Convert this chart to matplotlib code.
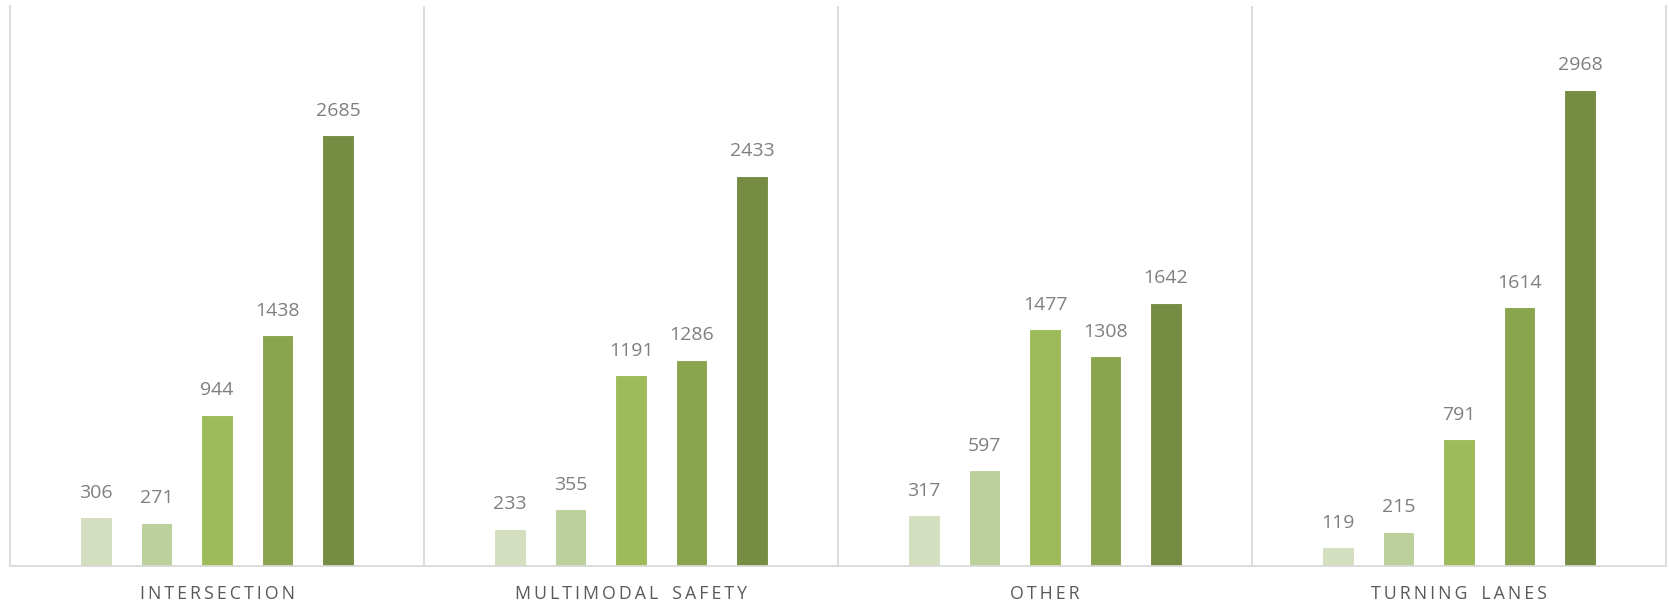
import numpy as np
import matplotlib.pyplot as plt

# data
categories = ['INTERSECTION', 'MULTIMODAL SAFETY', 'OTHER', 'TURNING LANES']
series = [
    [306, 233, 317, 119],
    [271, 355, 597, 215],
    [944, 1191, 1477, 791],
    [1438, 1286, 1308, 1614],
    [2685, 2433, 1642, 2968],
]
colors = ['#D3DFBF', '#BBD09A', '#9DBB59', '#89A54E', '#758C42']

plt.rcParams['font.family'] = ['Open Sans', 'DejaVu Sans']

fig = plt.figure(figsize=(16.69, 6.04), dpi=100)
ax = fig.add_axes([10 / 1669, 38 / 604, 1656 / 1669, 560 / 604])

x = np.arange(len(categories))
step = 0.146
width = 0.077
for i, vals in enumerate(series):
    pos = x + (i - 2) * step
    bars = ax.bar(pos, vals, width=width, color=colors[i], edgecolor='white', linewidth=0.8)
    for b, v in zip(bars, vals):
        ax.annotate(str(v), (b.get_x() + b.get_width() / 2, v), xytext=(0, 11),
                    textcoords='offset points', ha='center', va='bottom',
                    fontsize=14, color='#7F7F7F')

ax.set_xlim(-0.5, len(categories) - 0.5)
ax.set_ylim(0, 3490)

# separators between categories
for b in np.arange(0.5, len(categories) - 0.5, 1):
    ax.axvline(b, color='#D9D9D9', linewidth=1.3)

for s in ['left', 'right', 'bottom']:
    ax.spines[s].set_color('#D9D9D9')
    ax.spines[s].set_linewidth(1.3)
ax.spines['top'].set_visible(False)

ax.set_yticks([])
ax.set_xticks(x)
spaced = ['\u2009'.join(c).replace('\u2009 \u2009', '   ') for c in categories]
ax.set_xticklabels(spaced, fontsize=12.8, color='#595959')
ax.tick_params(axis='x', length=0, pad=14)

fig.savefig('out.png', dpi=100)
